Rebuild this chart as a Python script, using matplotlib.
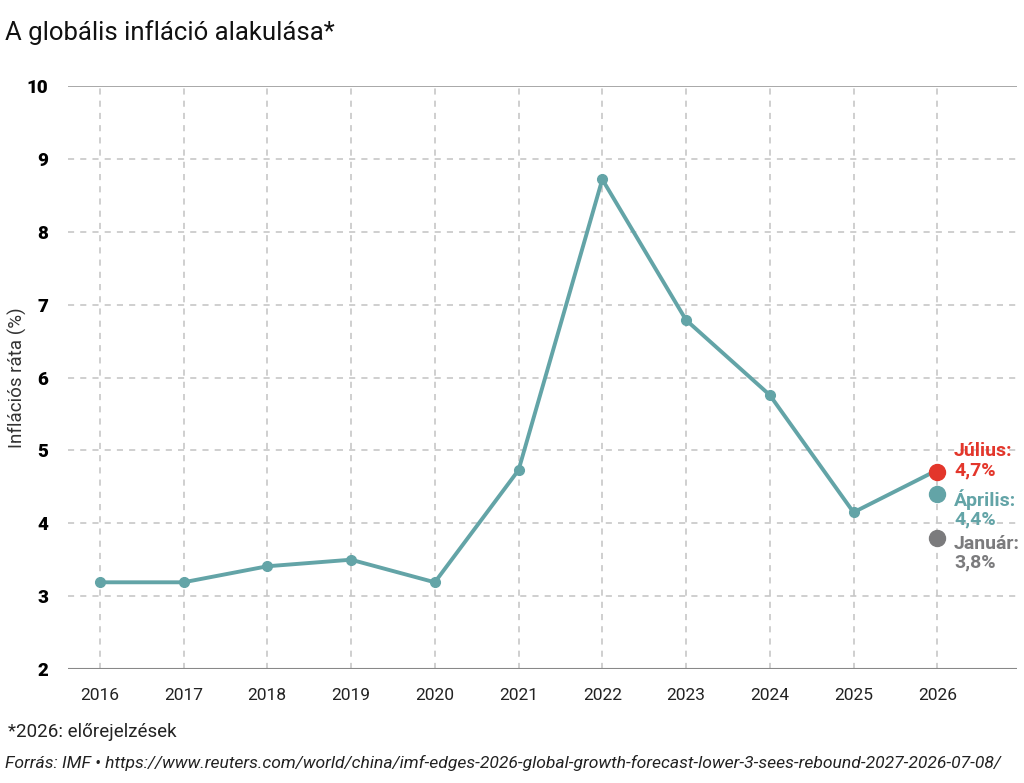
import numpy as np
import matplotlib.pyplot as plt

plt.rcParams['font.family'] = ['Roboto', 'DejaVu Sans']

# data
years = [2016, 2017, 2018, 2019, 2020, 2021, 2022, 2023, 2024, 2025, 2026]
inflation = [3.19, 3.19, 3.41, 3.50, 3.19, 4.73, 8.72, 6.79, 5.76, 4.15, 4.73]
forecast_labels = ['Július:\n4,7%', 'Április:\n4,4%', 'Január:\n3,8%']
forecast_values = [4.7, 4.4, 3.8]
forecast_text_y = [4.86, 4.20, 3.59]
forecast_colors = ['#e3362b', '#63a4a7', '#7b7b7d']

teal = '#63a4a7'

fig = plt.figure(figsize=(10.24, 7.83), dpi=100)
ax = fig.add_axes([0.0664, 0.1456, 0.9266, 0.7444])

ax.plot(years, inflation, color=teal, lw=2.8, marker='o', ms=7, zorder=3)

# forecast dots for 2026
for lab, v, ty, c in zip(forecast_labels, forecast_values, forecast_text_y, forecast_colors):
    ax.plot([years[-1]], [v], 'o', color=c, ms=11.5, zorder=4, clip_on=False)
    ax.text(years[-1] + 0.2, ty, lab, color=c, fontsize=14, fontweight='bold',
            va='center', ha='left', linespacing=1.05)

ax.set_xlim(2015.62, 2026.95)
ax.set_ylim(2, 10)
ax.set_xticks(years)
ax.set_yticks(range(2, 11))
ax.set_xticklabels([str(y) for y in years], fontsize=12.5, color='#222222')
ax.set_yticklabels([str(v) for v in range(2, 11)], fontsize=13.5, fontweight='black')
ax.tick_params(axis='both', length=0)
ax.tick_params(axis='y', pad=14)
ax.tick_params(axis='x', pad=14)

# grid
for y in range(3, 10):
    ax.axhline(y, color='#c2c2c2', lw=1.1, ls=(0, (4, 4)), zorder=1)
for x in years:
    ax.axvline(x, color='#c2c2c2', lw=1.1, ls=(0, (4, 4)), zorder=1)
ax.axhline(10, color='#9a9a9a', lw=1.2, zorder=2)
ax.axhline(2, color='#888888', lw=1.5, zorder=2)

for s in ax.spines.values():
    s.set_visible(False)

ax.set_ylabel('Inflációs ráta (%)', fontsize=13.5, color='#333333')
ax.yaxis.set_label_coords(-0.043, 0.5)

fig.text(0.005, 0.975, 'A globális infláció alakulása*', fontsize=18.5, va='top', ha='left', color='#111111')
fig.text(0.008, 0.065, '*2026: előrejelzések', fontsize=13.5, va='center', ha='left', color='#222222')
fig.text(0.005, 0.025,
         'Forrás: IMF • https://www.reuters.com/world/china/imf-edges-2026-global-growth-forecast-lower-3-sees-rebound-2027-2026-07-08/',
         fontsize=12.6, style='italic', va='center', ha='left', color='#222222')

fig.savefig('out.png', dpi=100)
